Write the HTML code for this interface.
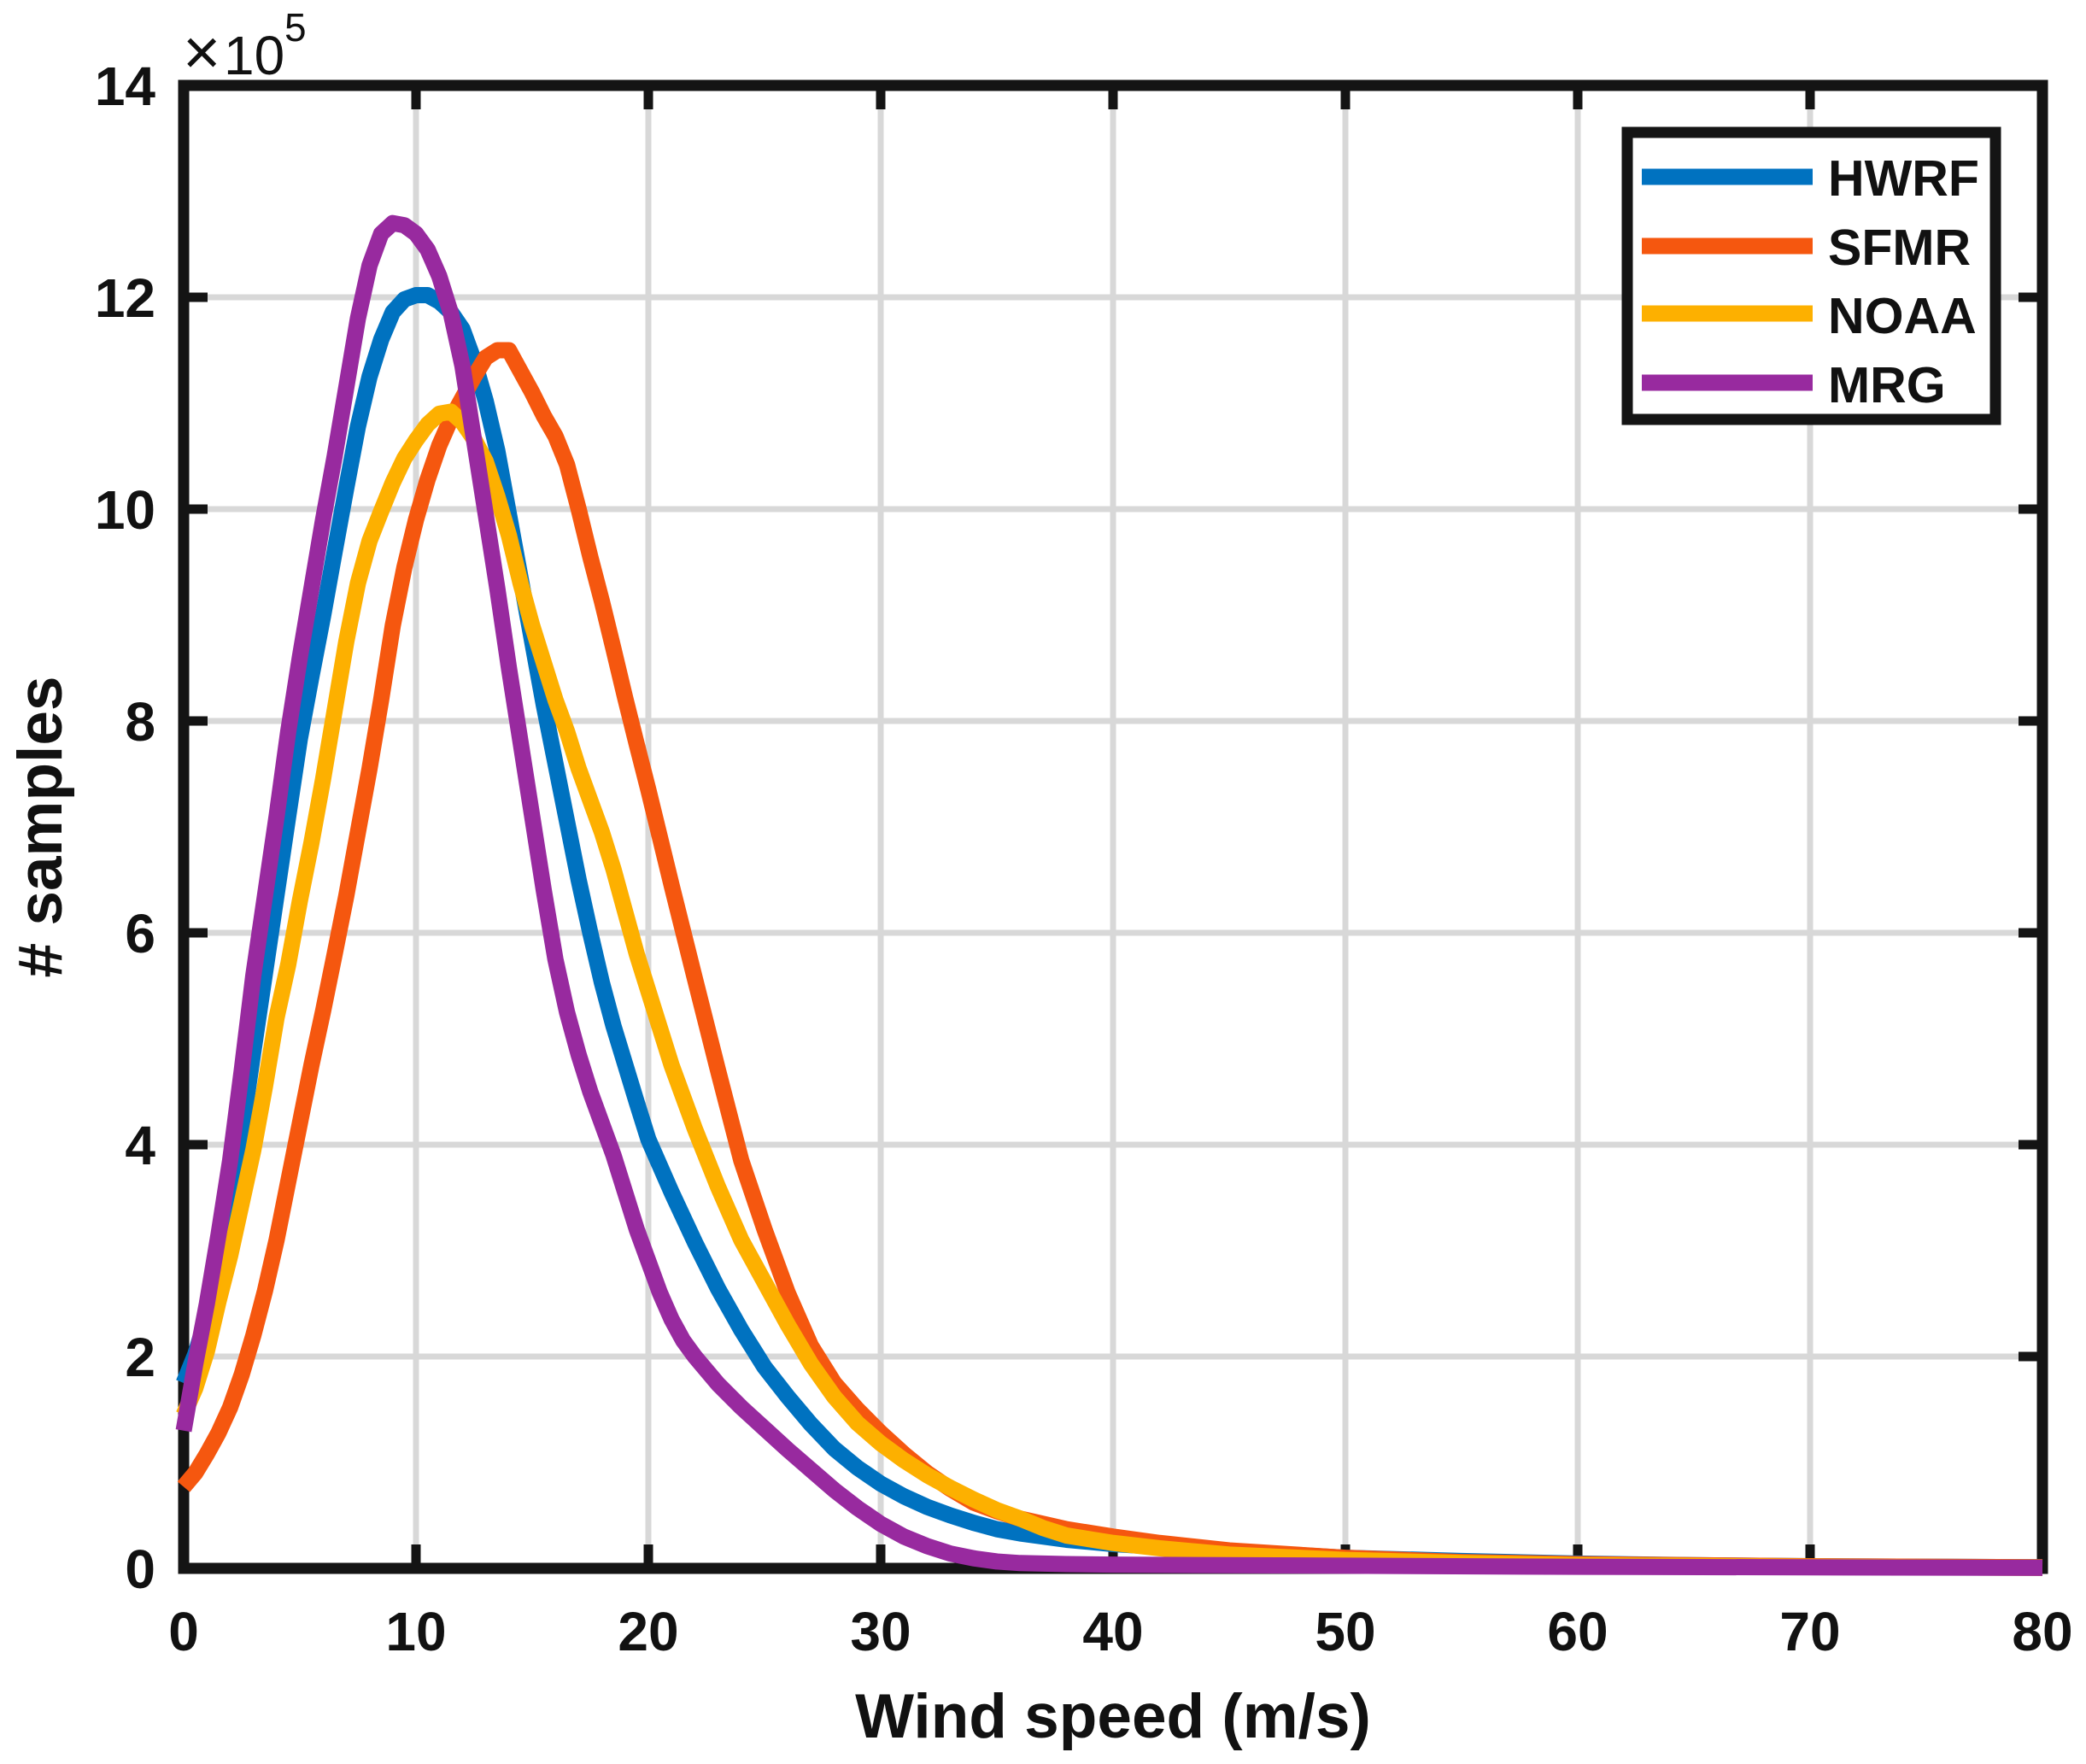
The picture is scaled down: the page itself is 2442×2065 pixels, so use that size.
<!DOCTYPE html>
<html>
<head>
<meta charset="utf-8">
<style>
html,body{margin:0;padding:0;background:#fff;}
svg{display:block;}
text{font-family:"Liberation Sans",Arial,sans-serif;fill:#111;}
</style>
</head>
<body>
<svg width="2442" height="2065" viewBox="0 0 2442 2065" xmlns="http://www.w3.org/2000/svg">
<rect x="0" y="0" width="2442" height="2065" fill="#fff"/>

<!-- grid -->
<g stroke="#d8d8d8" stroke-width="7">
  <line x1="487" y1="100" x2="487" y2="1836"/>
  <line x1="759" y1="100" x2="759" y2="1836"/>
  <line x1="1031" y1="100" x2="1031" y2="1836"/>
  <line x1="1303" y1="100" x2="1303" y2="1836"/>
  <line x1="1575" y1="100" x2="1575" y2="1836"/>
  <line x1="1847" y1="100" x2="1847" y2="1836"/>
  <line x1="2119" y1="100" x2="2119" y2="1836"/>
  <line x1="215" y1="1588" x2="2391" y2="1588"/>
  <line x1="215" y1="1340" x2="2391" y2="1340"/>
  <line x1="215" y1="1092" x2="2391" y2="1092"/>
  <line x1="215" y1="844" x2="2391" y2="844"/>
  <line x1="215" y1="596" x2="2391" y2="596"/>
  <line x1="215" y1="348" x2="2391" y2="348"/>
</g>

<!-- axes box -->
<rect x="215" y="100" width="2176" height="1736" fill="none" stroke="#141414" stroke-width="13"/>

<!-- ticks -->
<g stroke="#141414" stroke-width="11">
  <line x1="487" y1="1836" x2="487" y2="1808"/><line x1="487" y1="100" x2="487" y2="128"/>
  <line x1="759" y1="1836" x2="759" y2="1808"/><line x1="759" y1="100" x2="759" y2="128"/>
  <line x1="1031" y1="1836" x2="1031" y2="1808"/><line x1="1031" y1="100" x2="1031" y2="128"/>
  <line x1="1303" y1="1836" x2="1303" y2="1808"/><line x1="1303" y1="100" x2="1303" y2="128"/>
  <line x1="1575" y1="1836" x2="1575" y2="1808"/><line x1="1575" y1="100" x2="1575" y2="128"/>
  <line x1="1847" y1="1836" x2="1847" y2="1808"/><line x1="1847" y1="100" x2="1847" y2="128"/>
  <line x1="2119" y1="1836" x2="2119" y2="1808"/><line x1="2119" y1="100" x2="2119" y2="128"/>
  <line x1="215" y1="1588" x2="243" y2="1588"/><line x1="2391" y1="1588" x2="2363" y2="1588"/>
  <line x1="215" y1="1340" x2="243" y2="1340"/><line x1="2391" y1="1340" x2="2363" y2="1340"/>
  <line x1="215" y1="1092" x2="243" y2="1092"/><line x1="2391" y1="1092" x2="2363" y2="1092"/>
  <line x1="215" y1="844" x2="243" y2="844"/><line x1="2391" y1="844" x2="2363" y2="844"/>
  <line x1="215" y1="596" x2="243" y2="596"/><line x1="2391" y1="596" x2="2363" y2="596"/>
  <line x1="215" y1="348" x2="243" y2="348"/><line x1="2391" y1="348" x2="2363" y2="348"/>
</g>

<!-- data -->
<g transform="translate(215,1836) scale(27.2,-124)" fill="none" stroke-width="19" stroke-linejoin="round" stroke-linecap="butt">
  <polyline vector-effect="non-scaling-stroke" stroke="#0072C0" points="0,1.75 0.5,2.02 1,2.38 1.5,2.88 2,3.42 2.5,4.12 3,4.88 3.5,5.62 4,6.36 4.5,7.1 5,7.83 5.5,8.42 6,8.99 6.5,9.6 7,10.2 7.5,10.78 8,11.25 8.5,11.6 9,11.86 9.5,11.98 10,12.02 10.5,12.02 11,11.96 11.5,11.86 12,11.7 12.5,11.4 13,11.02 13.5,10.55 14,9.95 14.5,9.35 15,8.75 15.5,8.15 16,7.6 16.5,7.05 17,6.5 17.5,6.0 18,5.53 18.5,5.12 19,4.76 19.5,4.4 20,4.05 21,3.55 22,3.08 23,2.64 24,2.25 25,1.9 26,1.62 27,1.36 28,1.13 29,0.95 30,0.8 31,0.68 32,0.58 33,0.5 34,0.43 35,0.37 36,0.33 38,0.27 40,0.23 43,0.19 46,0.15 50,0.1 55,0.07 60,0.045 65,0.03 70,0.02 75,0.015 80,0.01"/>
  <polyline vector-effect="non-scaling-stroke" stroke="#F5570F" points="0,0.77 0.5,0.9 1,1.08 1.5,1.28 2,1.52 2.5,1.83 3,2.2 3.5,2.62 4,3.1 4.5,3.65 5,4.2 5.5,4.75 6,5.26 6.5,5.8 7,6.35 7.5,6.95 8,7.55 8.5,8.2 9,8.9 9.5,9.45 10,9.9 10.5,10.28 11,10.6 11.5,10.85 12,11.05 12.5,11.25 13,11.43 13.5,11.5 14,11.5 14.5,11.3 15,11.1 15.5,10.88 16,10.69 16.5,10.42 17,10.0 17.5,9.55 18,9.13 18.5,8.68 19,8.22 19.5,7.78 20,7.35 21,6.45 22,5.57 23,4.7 24,3.85 25,3.2 26,2.6 27,2.1 28,1.75 29,1.5 30,1.28 31,1.08 32,0.9 33,0.75 34,0.62 35,0.54 36,0.47 38,0.37 40,0.3 42,0.24 45,0.17 50,0.1 55,0.06 60,0.04 70,0.02 80,0.01"/>
  <polyline vector-effect="non-scaling-stroke" stroke="#FDB000" points="0,1.45 0.5,1.7 1,2.05 1.5,2.52 2,2.95 2.5,3.45 3,3.95 3.5,4.55 4,5.2 4.5,5.7 5,6.3 5.5,6.85 6,7.45 6.5,8.1 7,8.75 7.5,9.3 8,9.7 8.5,9.98 9,10.25 9.5,10.48 10,10.65 10.5,10.8 11,10.9 11.5,10.92 12,10.82 12.5,10.66 13,10.45 13.5,10.12 14,9.75 14.5,9.3 15,8.9 15.5,8.55 16,8.2 16.5,7.9 17,7.55 17.5,7.25 18,6.95 18.5,6.6 19,6.2 19.5,5.8 20,5.45 20.5,5.1 21,4.75 21.5,4.45 22,4.15 23,3.6 24,3.1 25,2.7 26,2.3 27,1.93 28,1.62 29,1.37 30,1.18 31,1.02 32,0.88 33,0.76 34,0.65 35,0.55 36,0.47 37,0.38 38,0.31 40,0.24 42,0.19 45,0.13 50,0.08 55,0.05 60,0.03 70,0.015 80,0.005"/>
  <polyline vector-effect="non-scaling-stroke" stroke="#982A9F" points="0,1.3 0.5,1.93 1,2.5 1.5,3.15 2,3.85 2.5,4.7 3,5.6 3.5,6.35 4,7.1 4.5,7.9 5,8.6 5.5,9.25 6,9.9 6.5,10.5 7,11.15 7.5,11.8 8,12.3 8.5,12.6 9,12.7 9.5,12.68 10,12.6 10.5,12.45 11,12.2 11.5,11.85 12,11.35 12.5,10.65 13,9.95 13.5,9.25 14,8.5 14.5,7.8 15,7.1 15.5,6.4 16,5.75 16.5,5.25 17,4.85 17.5,4.5 18,4.2 18.5,3.9 19,3.55 19.5,3.2 20,2.9 20.5,2.6 21,2.35 21.5,2.15 22,2.0 23,1.74 24,1.52 25,1.32 26,1.12 27,0.93 28,0.74 29,0.57 30,0.42 31,0.3 32,0.21 33,0.14 34,0.095 35,0.065 36,0.05 38,0.04 40,0.035 50,0.025 60,0.015 70,0.01 80,0.005"/>
</g>

<!-- x tick labels -->
<g font-size="64" font-weight="bold" text-anchor="middle">
  <text x="215" y="1932">0</text>
  <text x="487" y="1932">10</text>
  <text x="759" y="1932">20</text>
  <text x="1031" y="1932">30</text>
  <text x="1303" y="1932">40</text>
  <text x="1575" y="1932">50</text>
  <text x="1847" y="1932">60</text>
  <text x="2119" y="1932">70</text>
  <text x="2391" y="1932">80</text>
</g>

<!-- y tick labels -->
<g font-size="64" font-weight="bold" text-anchor="end">
  <text x="182" y="1859">0</text>
  <text x="182" y="1611">2</text>
  <text x="182" y="1363">4</text>
  <text x="182" y="1115">6</text>
  <text x="182" y="867">8</text>
  <text x="182" y="619">10</text>
  <text x="182" y="371">12</text>
  <text x="182" y="123">14</text>
</g>

<!-- exponent -->
<text x="214" y="87" font-size="76">×</text>
<text x="262" y="87" font-size="64">10</text>
<text x="333" y="48" font-size="46">5</text>

<!-- axis labels -->
<text x="1303" y="2034" font-size="73" font-weight="bold" text-anchor="middle">Wind speed (m/s)</text>
<text transform="translate(72,968) rotate(-90)" font-size="73" font-weight="bold" text-anchor="middle"># samples</text>

<!-- legend -->
<rect x="1905" y="155" width="431" height="336" fill="#fff" stroke="#141414" stroke-width="13"/>
<g stroke-width="19">
  <line x1="1922" y1="207" x2="2122" y2="207" stroke="#0072C0"/>
  <line x1="1922" y1="288" x2="2122" y2="288" stroke="#F5570F"/>
  <line x1="1922" y1="367" x2="2122" y2="367" stroke="#FDB000"/>
  <line x1="1922" y1="448" x2="2122" y2="448" stroke="#982A9F"/>
</g>
<g font-size="59" font-weight="bold">
  <text x="2140" y="229">HWRF</text>
  <text x="2140" y="310">SFMR</text>
  <text x="2140" y="390">NOAA</text>
  <text x="2140" y="471">MRG</text>
</g>
</svg>
</body>
</html>
